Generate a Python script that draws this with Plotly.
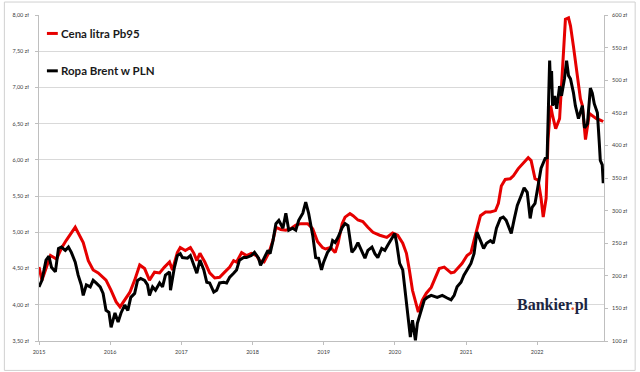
import plotly.graph_objects as go

# --- data ---
pb95_dates = [
    "2015-01-01", "2015-01-16", "2015-03-01", "2015-04-01", "2015-04-26", "2015-05-21", "2015-07-06",
    "2015-08-16", "2015-09-11", "2015-10-06", "2015-11-01", "2015-11-26", "2015-12-11",
    "2016-01-06", "2016-02-01", "2016-02-21", "2016-03-16", "2016-04-11", "2016-05-06", "2016-06-01",
    "2016-06-26", "2016-07-21", "2016-08-16", "2016-09-11", "2016-10-06", "2016-11-01", "2016-11-16",
    "2016-12-11", "2016-12-26",
    "2017-01-21", "2017-02-16", "2017-03-06", "2017-03-21", "2017-04-06", "2017-05-01", "2017-05-26",
    "2017-06-21", "2017-07-16", "2017-08-11", "2017-09-06", "2017-09-26", "2017-10-11", "2017-11-06",
    "2017-12-01", "2017-12-26",
    "2018-01-21", "2018-02-06", "2018-03-01", "2018-03-26", "2018-04-16", "2018-05-01", "2018-05-26",
    "2018-06-21", "2018-07-16", "2018-08-11", "2018-09-06", "2018-10-11", "2018-11-06", "2018-12-01",
    "2018-12-26",
    "2019-01-11", "2019-02-06", "2019-03-01", "2019-03-16", "2019-04-06", "2019-04-21", "2019-05-16",
    "2019-06-01", "2019-06-26", "2019-07-21", "2019-08-16", "2019-09-11", "2019-10-16", "2019-11-21",
    "2019-12-21",
    "2020-01-16", "2020-02-11", "2020-03-01", "2020-03-16", "2020-04-01", "2020-04-21", "2020-05-01",
    "2020-05-21", "2020-06-11", "2020-07-06", "2020-07-21", "2020-08-16", "2020-09-11", "2020-09-26",
    "2020-10-16", "2020-11-01", "2020-11-16", "2020-12-11",
    "2021-01-06", "2021-01-26", "2021-02-11", "2021-02-26", "2021-03-16", "2021-04-11", "2021-05-06",
    "2021-06-01", "2021-06-16", "2021-07-01", "2021-07-21", "2021-08-16", "2021-09-01", "2021-09-26",
    "2021-10-21", "2021-11-16", "2021-12-01", "2021-12-21",
    "2022-01-06", "2022-01-21", "2022-02-01", "2022-02-16", "2022-02-26", "2022-03-11", "2022-03-21",
    "2022-04-06", "2022-04-26", "2022-05-11", "2022-05-26", "2022-06-11", "2022-06-21", "2022-07-06",
    "2022-07-16", "2022-08-01", "2022-08-11", "2022-08-21", "2022-09-06", "2022-09-26", "2022-10-11",
    "2022-11-01", "2022-11-21", "2022-12-06",
]
pb95_values = [
    4.52, 4.34, 4.68, 4.63, 4.78, 4.89, 5.07,
    4.86, 4.61, 4.48, 4.44, 4.38, 4.34,
    4.20, 4.04, 3.97, 4.06, 4.17, 4.34, 4.55,
    4.50, 4.34, 4.45, 4.44, 4.52, 4.59, 4.48,
    4.72, 4.79,
    4.75, 4.79, 4.71, 4.61, 4.71, 4.59, 4.44,
    4.37, 4.38, 4.45, 4.52, 4.61, 4.59, 4.72,
    4.68, 4.71,
    4.68, 4.61, 4.59, 4.72, 4.89, 5.07, 5.04,
    5.03, 5.05, 5.10, 5.12, 5.12, 5.05, 4.87,
    4.79,
    4.77, 4.79, 4.72, 4.85, 5.12, 5.21, 5.26,
    5.23, 5.17, 5.15, 5.07, 5.00, 4.96, 4.93,
    4.99,
    4.96, 4.85, 4.71, 4.48, 4.20, 4.00, 3.90,
    4.06, 4.16, 4.24, 4.34, 4.50, 4.52, 4.48,
    4.44, 4.45, 4.50, 4.57,
    4.68, 4.72, 4.89, 5.03, 5.23, 5.28, 5.28,
    5.30, 5.40, 5.64, 5.73, 5.74, 5.78, 5.88,
    5.96, 6.03, 5.99, 5.74,
    5.72, 5.47, 5.21, 5.47, 6.29, 6.75, 6.61,
    6.43, 6.57, 7.20, 7.94, 7.96, 7.85, 7.57,
    7.37, 7.06, 6.84, 6.75, 6.28, 6.64, 6.61,
    6.57, 6.55, 6.53,
]

brent_dates = [
    "2015-01-01", "2015-01-16", "2015-02-06", "2015-02-21", "2015-03-06", "2015-03-26", "2015-04-11",
    "2015-04-26", "2015-05-16", "2015-06-01", "2015-06-16", "2015-07-06", "2015-07-21", "2015-08-06",
    "2015-08-16", "2015-09-01", "2015-09-21", "2015-10-06", "2015-10-21", "2015-11-11", "2015-11-26",
    "2015-12-11", "2015-12-26",
    "2016-01-06", "2016-01-26", "2016-02-11", "2016-02-26", "2016-03-16", "2016-04-01", "2016-04-16",
    "2016-05-06", "2016-05-21", "2016-06-06", "2016-06-26", "2016-07-11", "2016-07-21", "2016-08-06",
    "2016-08-21", "2016-09-11", "2016-09-26", "2016-10-11", "2016-11-01", "2016-11-06", "2016-11-26",
    "2016-12-11", "2016-12-26",
    "2017-01-06", "2017-02-01", "2017-02-16", "2017-03-06", "2017-03-21", "2017-04-06", "2017-04-26",
    "2017-05-11", "2017-05-26", "2017-06-16", "2017-07-01", "2017-07-16", "2017-08-06", "2017-08-21",
    "2017-09-06", "2017-09-26", "2017-10-11", "2017-10-26", "2017-11-16", "2017-12-01", "2017-12-26",
    "2018-01-11", "2018-02-01", "2018-02-11", "2018-03-01", "2018-03-21", "2018-04-01", "2018-04-16",
    "2018-05-01", "2018-05-16", "2018-06-06", "2018-06-21", "2018-07-06", "2018-07-26", "2018-08-11",
    "2018-08-26", "2018-09-16", "2018-10-01", "2018-10-16", "2018-11-06", "2018-11-21", "2018-12-06",
    "2018-12-21",
    "2019-01-01", "2019-01-21", "2019-02-06", "2019-02-16", "2019-03-01", "2019-03-16", "2019-04-06",
    "2019-04-21", "2019-05-06", "2019-05-26", "2019-06-11", "2019-06-26", "2019-07-16", "2019-08-01",
    "2019-08-16", "2019-09-06", "2019-09-21", "2019-10-06", "2019-10-26", "2019-11-11", "2019-11-26",
    "2019-12-16",
    "2020-01-01", "2020-01-11", "2020-01-26", "2020-02-11", "2020-03-01", "2020-03-11", "2020-03-21",
    "2020-04-01", "2020-04-16", "2020-04-26", "2020-05-16", "2020-06-01", "2020-06-16", "2020-07-06",
    "2020-08-06", "2020-09-01", "2020-09-26", "2020-10-16", "2020-11-01", "2020-11-16", "2020-12-06",
    "2020-12-21",
    "2021-01-06", "2021-01-26", "2021-02-11", "2021-02-26", "2021-03-16", "2021-04-01", "2021-04-16",
    "2021-05-06", "2021-05-21", "2021-06-06", "2021-06-26", "2021-07-11", "2021-07-26", "2021-08-06",
    "2021-08-21", "2021-09-06", "2021-09-21", "2021-10-11", "2021-10-26", "2021-11-11", "2021-11-26",
    "2021-12-06", "2021-12-21",
    "2022-01-06", "2022-01-21", "2022-02-11", "2022-02-21", "2022-03-06", "2022-03-11", "2022-03-16",
    "2022-03-21", "2022-04-01", "2022-04-11", "2022-04-26", "2022-05-06", "2022-05-21", "2022-06-01",
    "2022-06-11", "2022-06-21", "2022-07-06", "2022-07-16", "2022-08-01", "2022-08-11", "2022-08-21",
    "2022-09-01", "2022-09-16", "2022-10-01", "2022-10-11", "2022-10-21", "2022-11-06", "2022-11-16",
    "2022-11-21", "2022-12-01", "2022-12-06",
]
brent_values = [
    183, 193, 224, 230, 213, 206, 242,
    244, 239, 244, 236, 221, 201, 186,
    170, 186, 183, 193, 189, 183, 173,
    147, 144,
    121, 143, 129, 143, 155, 147, 167,
    173, 193, 196, 193, 186, 170, 183,
    178, 189, 183, 201, 206, 178, 213,
    231, 234,
    228, 227, 231, 216, 204, 224, 209,
    190, 189, 175, 178, 189, 190, 189,
    198, 204, 209, 224, 228, 228, 231,
    236, 227, 216, 227, 239, 234, 254,
    280, 285, 273, 296, 270, 273, 270,
    285, 296, 313, 296, 262, 228, 227,
    209,
    221, 236, 242, 254, 251, 259, 274,
    280, 277, 236, 242, 251, 239, 227,
    239, 244, 234, 228, 242, 239, 247,
    257,
    265, 250, 219, 209, 163, 137, 106,
    132, 101, 127, 147, 163, 167, 170,
    167, 170, 166, 163, 170, 183, 190,
    201,
    209, 219, 234, 267, 254, 242, 250,
    254, 250, 273, 288, 290, 285, 277,
    265, 288, 308, 323, 335, 328, 288,
    305, 311,
    339, 365, 380, 381, 530, 487, 514,
    461, 476, 456, 491, 476, 502, 530,
    507, 502, 481, 461, 441, 450, 461,
    427, 433, 488, 480, 464, 450, 403,
    377, 370, 342,
]

series_names = ["Cena litra Pb95", "Ropa Brent w PLN"]
year_tick_dates = ["2015-01-01", "2016-01-01", "2017-01-01", "2018-01-01",
                   "2019-01-01", "2020-01-01", "2021-01-01", "2022-01-01"]
year_tick_labels = ["2015", "2016", "2017", "2018", "2019", "2020", "2021", "2022"]
left_ticks = [3.5, 4.0, 4.5, 5.0, 5.5, 6.0, 6.5, 7.0, 7.5, 8.0]
left_tick_labels = ["3,50 zł", "4,00 zł", "4,50 zł", "5,00 zł", "5,50 zł",
                    "6,00 zł", "6,50 zł", "7,00 zł", "7,50 zł", "8,00 zł"]
right_ticks = [100, 150, 200, 250, 300, 350, 400, 450, 500, 550, 600]
right_tick_labels = ["100 zł", "150 zł", "200 zł", "250 zł", "300 zł", "350 zł",
                     "400 zł", "450 zł", "500 zł", "550 zł", "600 zł"]

RED = "#e60000"
BLACK = "#000000"
GRID = "#d9d9d9"
AXIS = "#bfbfbf"
TICKFONT = dict(family="Lato, Arial, sans-serif", size=5.5, color="#404040")

fig = go.Figure()
fig.add_trace(go.Scatter(
    x=pb95_dates, y=pb95_values, name=series_names[0], mode="lines",
    line=dict(color=RED, width=3), yaxis="y", showlegend=False,
))
fig.add_trace(go.Scatter(
    x=brent_dates, y=brent_values, name=series_names[1], mode="lines",
    line=dict(color=BLACK, width=3), yaxis="y2", showlegend=False,
))

fig.update_layout(
    width=640, height=372, autosize=False,
    margin=dict(l=36, r=33, t=14, b=31, pad=0),
    paper_bgcolor="white", plot_bgcolor="white",
    xaxis=dict(
        type="date", range=["2015-01-01", "2022-12-10"],
        tickmode="array", tickvals=year_tick_dates, ticktext=year_tick_labels,
        showgrid=False, zeroline=False,
        showline=True, linecolor=AXIS, linewidth=1,
        ticks="outside", ticklen=3, tickcolor=AXIS,
        tickfont=TICKFONT, ticklabelstandoff=2,
    ),
    yaxis=dict(
        range=[3.5, 8.0], tickmode="array", tickvals=left_ticks, ticktext=left_tick_labels,
        showgrid=True, gridcolor=GRID, gridwidth=1, zeroline=False,
        showline=True, linecolor=AXIS, linewidth=1,
        ticks="outside", ticklen=3, tickcolor=AXIS,
        tickfont=TICKFONT, ticklabelstandoff=5,
    ),
    yaxis2=dict(
        range=[100, 600], tickmode="array", tickvals=right_ticks, ticktext=right_tick_labels,
        overlaying="y", side="right",
        showgrid=False, zeroline=False,
        showline=True, linecolor=AXIS, linewidth=1,
        ticks="outside", ticklen=3, tickcolor=AXIS,
        tickfont=TICKFONT, ticklabelstandoff=3,
    ),
)

# legend samples (short strokes) and labels
plot_w, plot_h = 571.0, 327.0
def px(xp):
    return (xp - 36) / plot_w
def py(yp):
    return (341 - yp) / plot_h

legend_rows = [(series_names[0], RED, 32.5), (series_names[1], BLACK, 70)]
for name, col, ypix in legend_rows:
    fig.add_shape(type="line", xref="paper", yref="paper",
                  x0=px(44), x1=px(55), y0=py(ypix), y1=py(ypix),
                  line=dict(color=col, width=3))
    fig.add_annotation(text=name, xref="paper", yref="paper",
                       x=px(56), y=py(ypix), xanchor="left", yanchor="middle",
                       showarrow=False,
                       font=dict(family="Lato, Arial, sans-serif", size=11.5, color="#1a1a1a",
                                 weight="bold"))

# watermark
fig.add_annotation(
    text="Bankier<span style='color:#e8552b'>.</span>pl",
    xref="paper", yref="paper", x=px(594), y=py(305),
    xanchor="right", yanchor="middle", showarrow=False,
    font=dict(family="Liberation Serif, DejaVu Serif, serif", size=16, color="#1c2541",
              weight="bold"),
)

# outer frame
fig.add_shape(type="rect", xref="paper", yref="paper",
              x0=px(1), x1=px(638.5), y0=py(370.5), y1=py(1),
              line=dict(color="#d0d0d0", width=1), fillcolor="rgba(0,0,0,0)")

# the page's default body margin would offset the figure; remove it
fig.write_html("out.html", config={"displayModeBar": False},
               post_script="document.body.style.margin='0';")
